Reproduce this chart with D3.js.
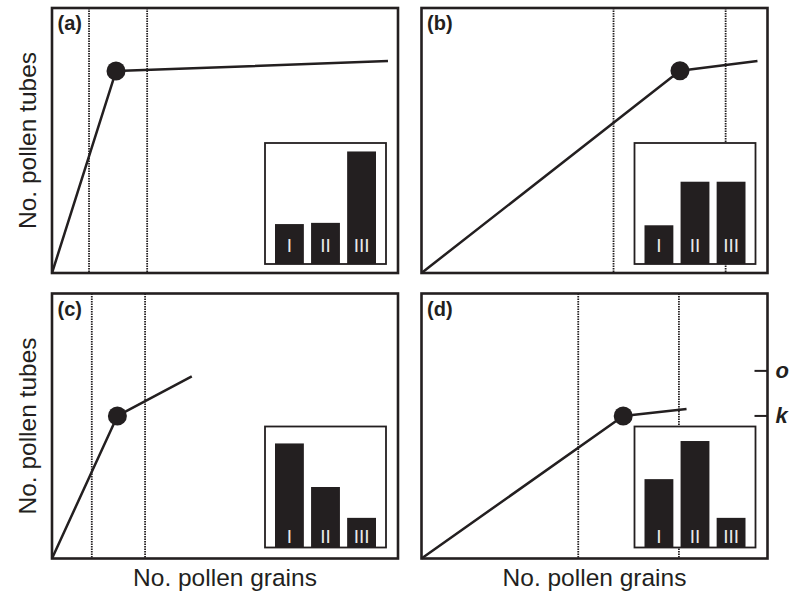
<!DOCTYPE html>
<html>
<head>
<meta charset="utf-8">
<script src="https://cdn.jsdelivr.net/npm/d3@7"></script>
<style>
  html, body { margin: 0; padding: 0; background: #fff; }
  svg { display: block; font-family: "Liberation Sans", Arial, Helvetica, sans-serif; }
</style>
</head>
<body>
<svg id="chart" width="802" height="593"></svg>
<script>
// ---------- data ----------
const panelIds   = ["(a)", "(b)", "(c)", "(d)"];
// broken-stick response: origin -> knot (dot) -> end
const knotX      = [1.85, 7.47, 1.89, 5.83];
const knotY      = [7.62, 7.63, 5.38, 5.38];
const endX       = [9.71, 9.71, 4.04, 7.66];
const endY       = [8.00, 8.00, 6.87, 5.64];
// vertical dotted reference lines
const dottedLeft  = [1.07, 5.55, 1.15, 4.53];
const dottedRight = [2.75, 8.79, 2.69, 7.44];
// inset bar charts
const barCategories = ["I", "II", "III"];
const barsA = [0.33, 0.34, 0.93];
const barsB = [0.32, 0.68, 0.68];
const barsC = [0.86, 0.50, 0.245];
const barsD = [0.565, 0.88, 0.245];
// reference ticks on right of panel (d)
const refTickLabels = ["o", "k"];
const refTickValues = [7.08, 5.38];
const xAxisLabel = "No. pollen grains";
const yAxisLabel = "No. pollen tubes";

// ---------- layout ----------
const ink = "#231f20";
const colLeft = [52, 421.5];
const rowTop = [8, 293.5];
const pw = 346, ph = 265;
const insetW = 121, insetH = 121;
const barSets = [barsA, barsB, barsC, barsD];

const svg = d3.select("#chart");

const x = d3.scaleLinear().domain([0, 10]).range([0, pw]);
const y = d3.scaleLinear().domain([0, 10]).range([ph, 0]);

panelIds.forEach((id, i) => {
  const col = i % 2, row = Math.floor(i / 2);
  const g = svg.append("g").attr("transform", `translate(${colLeft[col]},${rowTop[row]})`);

  // dotted lines
  [dottedLeft[i], dottedRight[i]].forEach(v => {
    g.append("line")
      .attr("x1", x(v)).attr("x2", x(v))
      .attr("y1", 0).attr("y2", ph)
      .attr("stroke", ink).attr("stroke-width", 1.8)
      .attr("stroke-dasharray", "1.5,1");
  });

  // inset
  const insetBottomMargin = row === 0 ? 9 : 11;
  const ig = g.append("g")
    .attr("transform", `translate(${pw - 12 - insetW},${ph - insetBottomMargin - insetH})`);
  ig.append("rect").attr("width", insetW).attr("height", insetH).attr("fill", "#fff");
  const bx = d3.scaleBand().domain(barCategories).range([10, insetW - 10]).paddingInner(0.2);
  const by = d3.scaleLinear().domain([0, 1]).range([insetH, 0]);
  const vals = barSets[i];
  ig.selectAll("rect.bar").data(barCategories).join("rect")
    .attr("class", "bar")
    .attr("x", d => bx(d)).attr("width", bx.bandwidth())
    .attr("y", (d, k) => by(vals[k]))
    .attr("height", (d, k) => insetH - by(vals[k]))
    .attr("fill", ink);
  const numBase = row === 0 ? insetH - 12 : insetH - 5;
  ig.selectAll("text.num").data(barCategories).join("text")
    .attr("class", "num")
    .attr("x", d => bx(d) + bx.bandwidth() / 2)
    .attr("y", numBase)
    .attr("text-anchor", "middle")
    .attr("font-size", 19)
    .attr("fill", "#e8e8e8")
    .text(d => d);
  ig.append("rect").attr("width", insetW).attr("height", insetH)
    .attr("fill", "none").attr("stroke", ink).attr("stroke-width", 1.8);

  // broken-stick line
  const pts = [[0, 0], [knotX[i], knotY[i]], [endX[i], endY[i]]];
  g.append("path")
    .attr("d", d3.line().x(d => x(d[0])).y(d => y(d[1]))(pts))
    .attr("fill", "none").attr("stroke", ink).attr("stroke-width", 2.5)
    .attr("stroke-linejoin", "round");
  g.append("circle")
    .attr("cx", x(knotX[i])).attr("cy", y(knotY[i])).attr("r", 9.5)
    .attr("fill", ink);

  // frame
  g.append("rect").attr("width", pw).attr("height", ph)
    .attr("fill", "none").attr("stroke", ink).attr("stroke-width", 2.6);

  // panel label
  g.append("text")
    .attr("x", 5.5).attr("y", 22)
    .attr("font-size", 20).attr("font-weight", "bold").attr("fill", ink)
    .text(id);

  // axis labels
  if (col === 0) {
    svg.append("text")
      .attr("transform", `translate(${35.5},${rowTop[row] + ph / 2}) rotate(-90)`)
      .attr("text-anchor", "middle")
      .attr("font-size", 24.5).attr("fill", ink)
      .text(yAxisLabel);
  }
  if (row === 1) {
    svg.append("text")
      .attr("x", colLeft[col] + pw / 2).attr("y", rowTop[row] + ph + 27)
      .attr("text-anchor", "middle")
      .attr("font-size", 24.5).attr("fill", ink)
      .text(xAxisLabel);
  }

  // reference ticks on panel (d)
  if (i === 3) {
    refTickValues.forEach((v, k) => {
      g.append("line")
        .attr("x1", pw - 13).attr("x2", pw)
        .attr("y1", y(v)).attr("y2", y(v))
        .attr("stroke", ink).attr("stroke-width", 2);
      g.append("text")
        .attr("x", pw + 8).attr("y", y(v) + 7)
        .attr("font-size", 22).attr("font-weight", "bold").attr("font-style", "italic")
        .attr("fill", ink)
        .text(refTickLabels[k]);
    });
  }
});
</script>
</body>
</html>
